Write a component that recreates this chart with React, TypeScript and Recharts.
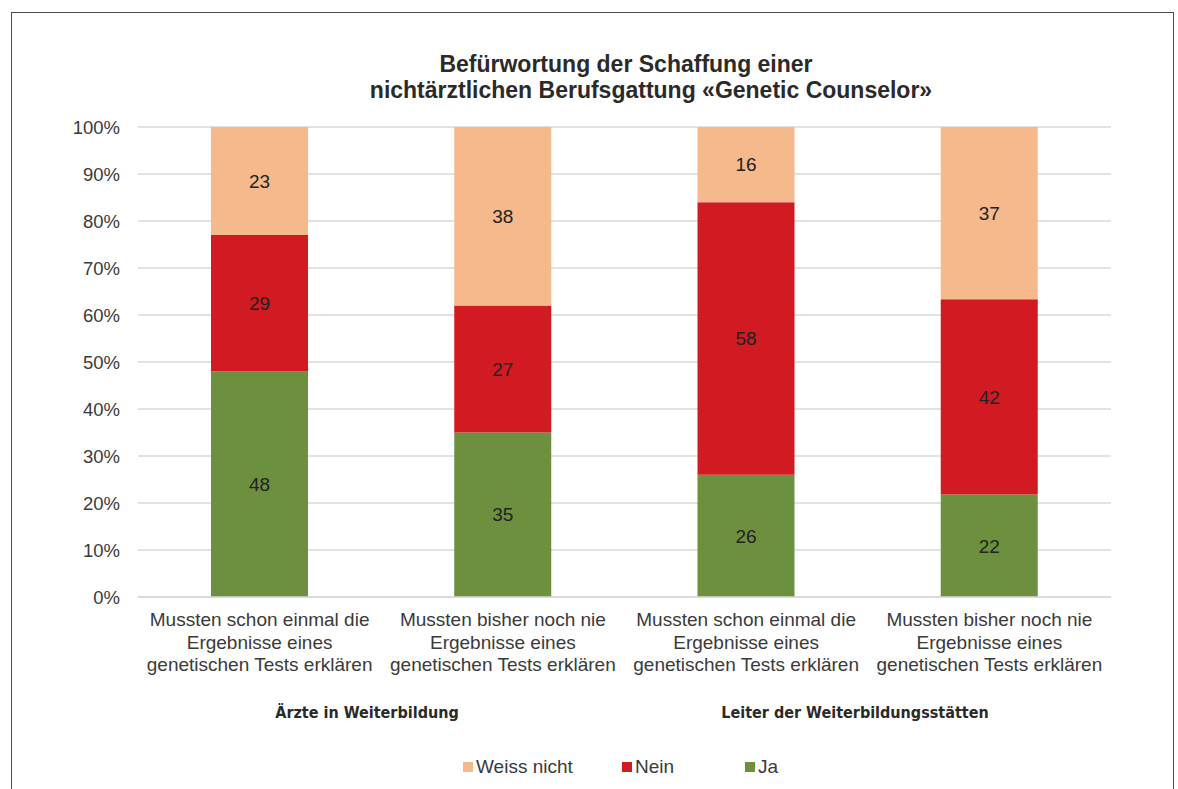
import { Bar, BarChart, CartesianGrid, LabelList, XAxis, YAxis } from "recharts";

const categories = [
  "Mussten schon einmal die|Ergebnisse eines|genetischen Tests erklären",
  "Mussten bisher noch nie|Ergebnisse eines|genetischen Tests erklären",
  "Mussten schon einmal die|Ergebnisse eines|genetischen Tests erklären",
  "Mussten bisher noch nie|Ergebnisse eines|genetischen Tests erklären",
];
const ja = [48, 35, 26, 22];
const nein = [29, 27, 58, 42];
const weissNicht = [23, 38, 16, 37];
const yTicks = [0, 0.1, 0.2, 0.3, 0.4, 0.5, 0.6, 0.7, 0.8, 0.9, 1];
const groups = ["Ärzte in Weiterbildung", "Leiter der Weiterbildungsstätten"];
const legendItems = [
  { name: "Weiss nicht", color: "#F5B98B" },
  { name: "Nein", color: "#D11A21" },
  { name: "Ja", color: "#6D903F" },
];

const data = categories.map((name, i) => ({
  name,
  ja: ja[i],
  nein: nein[i],
  weiss: weissNicht[i],
}));

const font = '"Liberation Sans", Arial, sans-serif';

function CategoryTick({ x, y, payload }: any) {
  const lines = String(payload.value).split("|");
  return (
    <text x={x} y={y} textAnchor="middle" fontSize={19} fill="#3a3a3a" fontFamily={font}>
      {lines.map((line, i) => (
        <tspan key={i} x={x} dy={i === 0 ? 21 : 22.5}>
          {line}
        </tspan>
      ))}
    </text>
  );
}

export default function App() {
  return (
    <div style={{ position: "absolute", left: 0, top: 0, width: 1178, height: 789, background: "#fff", overflow: "hidden", fontFamily: font }}>
      <div style={{ position: "absolute", left: 11, top: 12, width: 1161, height: 800, border: "1.5px solid #4a4a4a" }} />
      <div style={{ position: "absolute", left: 0, top: 0 }}>
        <BarChart
          width={1178}
          height={789}
          data={data}
          stackOffset="expand"
          margin={{ top: 127, right: 67, bottom: 112, left: 78 }}
        >
          <CartesianGrid vertical={false} stroke="#d9d9d9" strokeWidth={1.3} />
          <XAxis
            dataKey="name"
            interval={0}
            height={80}
            axisLine={{ stroke: "#d9d9d9", strokeWidth: 1.3 }}
            tickLine={false}
            tick={<CategoryTick />}
          />
          <YAxis
            width={60}
            ticks={yTicks}
            domain={[0, 1]}
            axisLine={false}
            tickLine={false}
            tickMargin={12}
            tick={{ fontSize: 18.5, fill: "#3a3a3a", fontFamily: font }}
            tickFormatter={(v: number) => `${Math.round(v * 100)}%`}
          />
          <Bar dataKey="ja" stackId="a" fill="#6D903F" barSize={97} isAnimationActive={false}>
            <LabelList dataKey="ja" position="center" fill="#222" fontSize={19} fontFamily={font} />
          </Bar>
          <Bar dataKey="nein" stackId="a" fill="#D11A21" barSize={97} isAnimationActive={false}>
            <LabelList dataKey="nein" position="center" fill="#222" fontSize={19} fontFamily={font} />
          </Bar>
          <Bar dataKey="weiss" stackId="a" fill="#F5B98B" barSize={97} isAnimationActive={false}>
            <LabelList dataKey="weiss" position="center" fill="#222" fontSize={19} fontFamily={font} />
          </Bar>
        </BarChart>
      </div>
      <div style={{ position: "absolute", left: 326, top: 50, width: 600, textAlign: "center", fontWeight: "bold", fontSize: 23, color: "#2a2a2a", lineHeight: "28px" }}>
        Befürwortung der Schaffung einer
      </div>
      <div style={{ position: "absolute", left: 351, top: 76, width: 600, textAlign: "center", fontWeight: "bold", fontSize: 23, color: "#2a2a2a", lineHeight: "28px" }}>
        nichtärztlichen Berufsgattung «Genetic Counselor»
      </div>
      {groups.map((g, i) => (
        <div
          key={g}
          style={{
            position: "absolute",
            left: [367, 855][i] - 200,
            top: 701,
            width: 400,
            textAlign: "center",
            fontWeight: "bold",
            fontSize: 16,
            color: "#2a2a2a",
            fontFamily: '"Liberation Sans Narrow", "DejaVu Sans Condensed", Arial, sans-serif',
            lineHeight: "24px",
          }}
        >
          {g}
        </div>
      ))}
      <div style={{ position: "absolute", left: 463, top: 755, display: "flex", alignItems: "center", fontSize: 19, color: "#3a3a3a", lineHeight: "24px" }}>
        {legendItems.map((item, i) => (
          <div key={item.name} style={{ display: "flex", alignItems: "center", width: [159, 123, 60][i] }}>
            <span style={{ display: "inline-block", width: 10, height: 10, background: item.color, marginRight: 3 }} />
            <span>{item.name}</span>
          </div>
        ))}
      </div>
    </div>
  );
}
